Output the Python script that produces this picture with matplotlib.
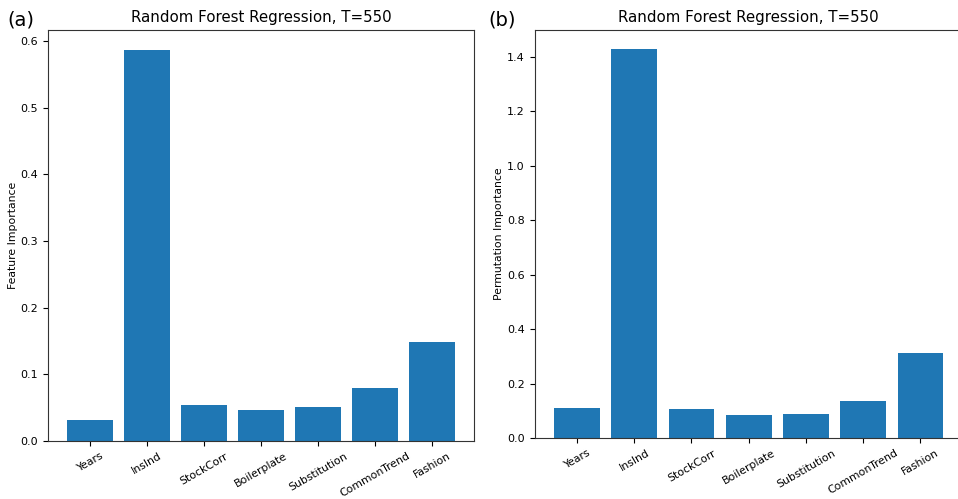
import numpy as np
import matplotlib
matplotlib.use('Agg')
import matplotlib.pyplot as plt

#---
#       DATA
#---
features = ['Years', 'InsInd', 'StockCorr', 'Boilerplate', 'Substitution', 'CommonTrend', 'Fashion']
feat_imp = [0.031, 0.587, 0.054, 0.047, 0.051, 0.079, 0.148]
perm_imp = [0.111, 1.427, 0.107, 0.085, 0.089, 0.137, 0.311]

#---
#       PLOT
#---
fig = plt.figure(figsize=(9.58, 4.99), dpi=100)
fig.set_facecolor('white')

ax1 = fig.add_axes([0.050, 0.116, 0.445, 0.824])
ax2 = fig.add_axes([0.558, 0.122, 0.447, 0.818])

x = np.arange(len(features))

for ax, vals, ylab in [(ax1, feat_imp, 'Feature Importance'),
                       (ax2, perm_imp, 'Permutation Importance')]:
    ax.bar(x, vals, color='#1f77b4')
    ax.set_xticks(x)
    ax.set_xticklabels(features, rotation=30, fontsize=7.8)
    ax.tick_params(axis='y', labelsize=8)
    ax.set_ylabel(ylab, fontsize=7.8, labelpad=2)
    ax.set_title('Random Forest Regression, T=550', fontsize=10.8)
    for s in ax.spines.values():
        s.set_color('#333333')

ax1.set_yticks(np.arange(0, 0.61, 0.1))
ax2.set_yticks(np.arange(0, 1.41, 0.2))

fig.text(0.008, 0.948, '(a)', fontsize=14)
fig.text(0.510, 0.948, '(b)', fontsize=14)

fig.savefig('out.png', dpi=100)
